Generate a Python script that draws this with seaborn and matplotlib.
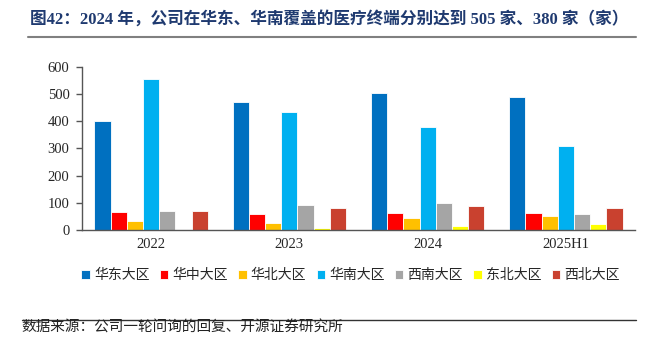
import matplotlib
matplotlib.use("Agg")
import matplotlib.pyplot as plt
import seaborn as sns
import pandas as pd
from matplotlib.lines import Line2D

periods = ["2022", "2023", "2024", "2025H1"]
regions = ["华东大区", "华中大区", "华北大区", "华南大区", "西南大区", "东北大区", "西北大区"]
east = [400, 469, 505, 487]
central = [65, 59, 61, 64]
north = [34, 26, 43, 51]
south = [553, 433, 380, 309]
southwest = [69, 91, 98, 59]
northeast = [0, 6, 15, 22]
northwest = [69, 81, 87, 81]
colors = ["#0070C0", "#FF0000", "#FFC000", "#00B0F0", "#A5A5A5", "#FFFF00", "#C9412F"]
yticks = [0, 100, 200, 300, 400, 500, 600]

series = [east, central, north, south, southwest, northeast, northwest]
rows = []
for reg, vals in zip(regions, series):
    for p, v in zip(periods, vals):
        rows.append({"period": p, "region": reg, "value": v})
df = pd.DataFrame(rows)

sns.set_style("white")
plt.rcParams["font.family"] = ["Noto Sans CJK SC", "DejaVu Sans"]
serif = ["Liberation Serif", "Noto Sans CJK SC"]

fig = plt.figure(figsize=(6.59, 3.52), dpi=100)
ax = fig.add_axes([0.1244, 0.3466, 0.8392, 0.4639])

sns.barplot(data=df, x="period", y="value", hue="region", order=periods,
            hue_order=regions, palette=colors, width=0.82, ax=ax,
            edgecolor="white", linewidth=0.6, saturation=1, legend=True)

ax.set_ylim(0, 600)
ax.set_xlim(-0.5, len(periods) - 0.5)
ax.set_yticks(yticks)
ax.set_yticklabels([str(t) for t in yticks], fontfamily=serif, fontsize=10.5)
ax.set_xticks(range(len(periods)))
ax.set_xticklabels(periods, fontfamily=serif, fontsize=10.5)
ax.set_xticks([i - 0.5 for i in range(len(periods) + 1)], minor=True)
ax.tick_params(axis="x", which="major", length=0, pad=6)
ax.tick_params(axis="x", which="minor", direction="in", length=4, color="#555555", width=1)
ax.tick_params(axis="y", direction="out", length=4, color="#555555", width=1, pad=5, left=True)
ax.set_xlabel("")
ax.set_ylabel("")
for s in ["top", "right"]:
    ax.spines[s].set_visible(False)
for s in ["left", "bottom"]:
    ax.spines[s].set_color("#555555")
    ax.spines[s].set_linewidth(1)

handles, labels = ax.get_legend_handles_labels()
ax.legend_.remove()
fig.legend(handles, labels, loc="center", bbox_to_anchor=(0.532, 0.218), ncol=7,
           frameon=False, fontsize=10, handlelength=0.6, handleheight=0.6,
           handletextpad=0.3, columnspacing=0.75)

fig.text(0.045, 0.945, "图42：2024 年，公司在华东、华南覆盖的医疗终端分别达到 505 家、380 家（家）",
         fontsize=12, fontweight="bold", color="#1F3A70", fontfamily=serif, va="center", ha="left")
fig.add_artist(Line2D([0.042, 0.965], [0.895, 0.895], color="#808080", lw=1.5))
fig.add_artist(Line2D([0.033, 0.965], [0.09, 0.09], color="#333333", lw=1))
fig.text(0.033, 0.07, "数据来源：公司一轮问询的回复、开源证券研究所", fontsize=10.5, color="#222222",
         va="center", ha="left")

fig.savefig("out.png", dpi=100)
